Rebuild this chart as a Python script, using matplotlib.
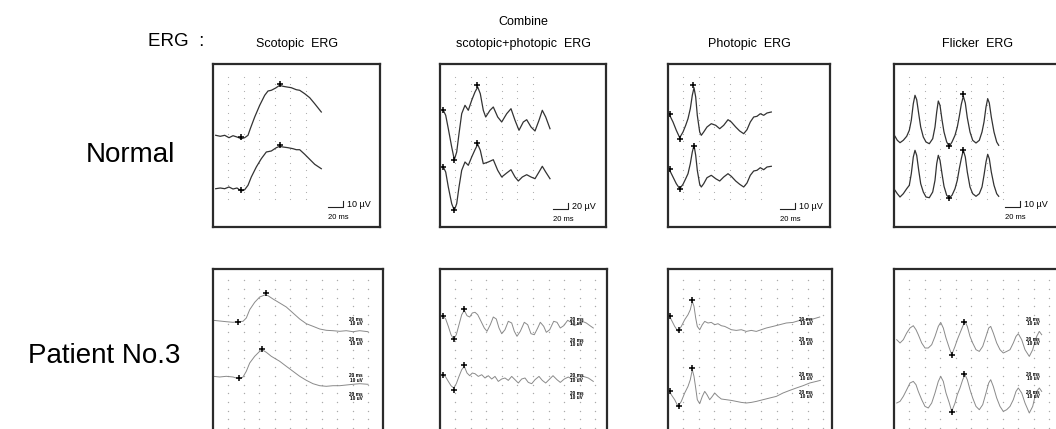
import matplotlib
matplotlib.use("Agg")
import matplotlib.pyplot as plt

plt.rcParams['font.family'] = ['Liberation Sans', 'DejaVu Sans']

W, H = 1056, 429

col_titles = ["Scotopic  ERG", "Combine\nscotopic+photopic  ERG", "Photopic  ERG", "Flicker  ERG"]
row_titles = ["Normal", "Patient No.3"]
scale_uv = ["10 µV", "20 µV", "10 µV", "10 µV"]

# traces, in box pixels (x from the left edge, y up from the bottom edge)
# --- Normal, scotopic
s1_x1 = [2.7, 7.3, 11.7, 16, 20, 24, 28.3, 31.7, 35, 37.3, 41.7, 46.7, 51.7, 55, 58.3, 62.7, 66.7, 70, 74, 78.3, 83.3, 86.7, 91.7, 96.7, 101.7, 108.3]
s1_y1 = [91.7, 90.7, 91.7, 89.3, 91.3, 90, 88.3, 89.3, 91.7, 98.3, 110, 121.7, 131.7, 136, 136.7, 139, 141.7, 140.7, 140, 139.3, 137.3, 136.7, 133.3, 129.3, 123.3, 115]
s1_x2 = [2.7, 7.3, 11.7, 16, 20, 24, 28.3, 31.7, 35, 38.3, 43.3, 48.3, 53.3, 58.3, 63.3, 66.7, 70, 75, 80, 83.3, 86.7, 91.7, 96.7, 101.7, 108.3]
s1_y2 = [38.3, 39, 38.3, 40, 38, 39, 36, 37.3, 41.7, 50, 60, 68.3, 75, 76, 79.3, 80.7, 80, 79.3, 78.3, 77.3, 77.3, 72.7, 67.7, 62.7, 58.3]
s1_mx = [28.3, 66.7, 28.3, 66.7]
s1_my = [90, 142.7, 36.7, 81.7]

# --- Normal, combined
s2_x1 = [3.3, 5.7, 8.3, 11.7, 14.3, 16.7, 19, 21.7, 25, 28.3, 31.7, 35, 37.7, 40.3, 43.3, 45.7, 50, 53.3, 57.7, 61.7, 66.7, 71, 75, 79, 83.3, 86.7, 91, 95, 99, 102.3, 105.7, 110]
s2_y1 = [116.7, 111.7, 98.3, 80, 67.3, 75, 93.3, 113.3, 121.7, 116.7, 126.7, 135, 140, 133.3, 116.7, 110, 116.7, 120, 110, 105, 113.3, 118.3, 106.7, 96.7, 105, 107.3, 100, 96, 106.7, 116.7, 110, 98.3]
s2_x2 = [3.3, 5.7, 8.3, 11.7, 14.3, 16.7, 19, 21.7, 25, 28.3, 31.7, 35, 37.7, 40.3, 43.3, 48.3, 53.3, 57.7, 61.7, 66.7, 71, 75, 78.3, 82.3, 86.7, 91, 95, 99, 102.3, 105.7, 110]
s2_y2 = [60, 55, 40, 23.3, 16.7, 23.3, 40, 56.7, 65, 61.7, 70, 77.3, 82.7, 76.7, 63.3, 65, 67.3, 56.7, 50, 54, 57.3, 50, 46, 50, 52.3, 50, 48.3, 55, 60.7, 55, 48.3]
s2_mx = [3.3, 14.3, 36.7, 3.3, 14.3, 36.7]
s2_my = [116.7, 66.7, 141.7, 60, 17.3, 84]

# --- Normal, photopic
s3_x = [1.7, 5, 8.3, 11.7, 15, 17.7, 20, 22.3, 24.3, 26, 27.7, 29.3, 31.7, 33.3, 35.7, 39, 43.3, 47.7, 51.7, 55.7, 60, 63.3, 67.7, 71.7, 75.7, 79, 82.3, 85.7, 89, 92.3, 95.7, 99, 103.3]
s3_y1 = [111.7, 105, 96.7, 89.3, 95, 101.7, 108.3, 118.3, 131.7, 139.3, 130, 111.7, 95, 91.7, 95, 100, 103.3, 101.7, 98.3, 101.7, 107.3, 105, 100, 96, 93.3, 97.3, 105, 110, 110.7, 113.3, 111.7, 114, 115]
s3_y2 = [56.7, 50, 43.3, 38.3, 42.7, 48.3, 53.3, 63.3, 75, 81.7, 71.7, 56.7, 42.7, 40, 43.3, 49.3, 51.7, 48.3, 46, 50, 53.3, 50.7, 46, 42.7, 40, 44, 51.7, 56, 56.7, 59.3, 57.3, 60, 60.7]
s3_mx = [2.3, 11.7, 25, 2.3, 11.7, 25.7]
s3_my = [113.3, 88.3, 141.7, 58.3, 38.3, 80.7]

# --- Normal, flicker
s4_x = [1, 3.3, 6, 9.3, 12.7, 15.3, 17.3, 19.3, 21, 22.7, 24.7, 26.7, 29.3, 32, 35.3, 38.7, 41, 42.7, 44.3, 46, 48, 50, 52.7, 55.3, 58, 61, 63.3, 65.3, 67.3, 69.3, 71.3, 73.3, 76, 78.7, 82, 85.3, 88, 90, 92, 93.7, 95.3, 97.3, 100, 102.7, 104.7]
s4_y1 = [90.7, 86.7, 84.3, 86.7, 90.7, 96.7, 106.7, 123.3, 131.7, 127.3, 113.3, 100, 90, 85, 83.3, 88.3, 100, 115, 126, 121.7, 107.3, 95, 85, 80.7, 85, 91.7, 100, 110.7, 122.7, 130.7, 124, 109.3, 95, 86.7, 84, 86.7, 95, 105, 120, 128.3, 124, 110, 95, 85, 81.7]
s4_y2 = [36.7, 33.3, 30, 33.3, 38.3, 41.7, 53.3, 70, 76.7, 71.7, 56.7, 43.3, 35, 30, 29.3, 35, 46.7, 63.3, 71.7, 66.7, 53.3, 40.7, 31.7, 29.3, 31.7, 38.3, 46.7, 58.3, 68.3, 76.7, 70, 55, 40, 33.3, 30.7, 33.3, 40, 51.7, 65, 72.7, 68.3, 55, 41.7, 33.3, 30.7]
s4_mx = [55.3, 69.3, 55.3, 69.3]
s4_my = [80.7, 133, 29.3, 77]

# --- Patient, scotopic
p1_x1 = [0, 6.7, 13.3, 20, 25, 30, 33.3, 36.7, 41.7, 46.7, 51.7, 55, 60, 66.7, 73.3, 80, 86.7, 93.3, 100, 106.7, 113.3, 120, 126.7, 133.3, 140, 146.7, 155]
p1_y1 = [111.7, 111, 110.3, 109.7, 110.3, 110.7, 114, 122.3, 129.7, 135, 137, 136.3, 133, 129, 125, 119, 113, 108.3, 105.7, 103, 101.7, 101.3, 100.7, 101.3, 100.3, 101.3, 100.3]
p1_x2 = [0, 6.7, 13.3, 20, 26.7, 30, 33.3, 36.7, 41.7, 46.7, 50, 53.3, 58.3, 66.7, 73.3, 80, 86.7, 93.3, 100, 106.7, 113.3, 120, 126.7, 133.3, 140, 146.7, 155]
p1_y2 = [55.7, 55, 55.7, 55, 53, 55, 60.7, 69, 75.7, 80.7, 81.7, 79.7, 75.7, 70.7, 65.7, 60.7, 55.7, 51.7, 48.3, 46.3, 45.7, 46.3, 46.3, 47, 47.7, 48.3, 47.7]
p1_mx = [25, 53.3, 26, 49.3]
p1_my = [109.7, 139, 54, 83]

# --- Patient, combined
p2_x1 = [3.3, 5.7, 8.3, 11, 13.7, 16.3, 19, 21.7, 24.3, 27, 29.7, 32.3, 35, 37.7, 41, 44.3, 47, 50.3, 53.3, 56.3, 59, 61.7, 65, 68.3, 71.7, 74.3, 77, 80.3, 84.3, 87.7, 91, 94.3, 97.7, 100.3, 103.7, 106.3, 109.7, 113.7, 117, 120.3, 123.7, 127.7, 131, 134.3, 138.3, 142.3, 146.3, 150, 153.3]
p2_y1 = [115.7, 113, 105.7, 97.3, 93, 97.3, 107.3, 117.3, 121.7, 116.3, 115, 119, 119.7, 117.3, 110.7, 104, 100.7, 107.3, 115, 113, 104, 98.3, 102.3, 110.7, 109, 100.7, 95.7, 100.7, 109.7, 107.3, 98.3, 97.3, 104, 109.7, 105.7, 99.7, 102.3, 110.7, 109.7, 104, 106.3, 111.7, 109.7, 106.3, 108.3, 110.7, 109, 106.3, 104]
p2_x2 = [3.3, 5.7, 8.3, 11, 13.7, 16.3, 19, 21.7, 24.3, 27, 29.7, 32.3, 35, 38.3, 41.7, 45, 48.3, 51.7, 55, 58.3, 61.7, 65, 68.3, 71.7, 75, 78.3, 81.7, 85, 88.3, 91.7, 95, 99, 102.3, 105.7, 109, 113, 117, 120.3, 124.3, 128.3, 131.7, 135, 139, 143.3, 148.3, 153.3]
p2_y2 = [57.3, 55, 50.6, 46.3, 44, 48.3, 55.6, 62.3, 65.6, 59, 56.3, 59, 58.3, 55.6, 57.3, 54, 56.3, 53, 55.6, 50.6, 53, 54, 51.6, 55.6, 52.3, 49, 53, 54, 49.6, 48.3, 52.3, 55.6, 51.6, 49, 52.3, 56.3, 52.3, 49.6, 53, 55, 53, 55, 53, 55.6, 54, 50.6]
p2_mx = [3.3, 13.7, 24.3, 3.3, 13.7, 24.3]
p2_my = [115.7, 93, 123, 57.3, 42.5, 67]

# --- Patient, photopic
p3_x1 = [1.7, 3.3, 6.7, 10, 13.3, 16.7, 20, 22.3, 24.3, 26, 27.7, 29.3, 31.7, 34.3, 36.7, 40, 43.3, 46.7, 50, 53.3, 56.7, 60, 63.3, 68.3, 73.3, 78.3, 83.3, 88.3, 93.3, 98.3, 105, 111.7, 118.3, 125, 131.7, 138.3, 145, 151.7]
p3_y1 = [115.6, 112.3, 105.6, 100.6, 105.6, 112.3, 117.3, 122.3, 130.6, 125.6, 114, 105.6, 102.3, 107.3, 110.6, 109, 109.6, 107.3, 108.3, 106.3, 105.6, 104, 102.3, 101.6, 102.3, 100.6, 101.6, 100.6, 102.3, 104, 105.6, 107.3, 109, 109.6, 111.6, 112.3, 113, 115]
p3_x2 = [1.7, 3.3, 6.7, 10, 13.3, 16.7, 20, 22.3, 24.3, 26, 27.7, 29.3, 31.7, 34.3, 36.7, 39, 41.7, 44.3, 46.7, 50, 53.3, 58.3, 63.3, 68.3, 73.3, 78.3, 83.3, 88.3, 95, 101.7, 108.3, 115, 121.7, 128.3, 135, 141.7, 148.3, 152.3]
p3_y2 = [40.6, 37.3, 32.3, 25.6, 30.6, 39, 45.6, 52.3, 62.3, 55.6, 44, 32.3, 28.3, 35.6, 40.6, 37.3, 32.3, 35.6, 39, 35.6, 33, 32.3, 31.6, 30.6, 29.6, 29, 29.6, 30.6, 32.3, 34, 35.6, 39, 41.6, 44, 46.3, 49, 50.6, 51.6]
p3_mx = [1.7, 11, 24.3, 1.7, 11, 24.3]
p3_my = [115.6, 101.6, 131.6, 40.6, 26.3, 64]

# --- Patient, flicker
p4_x = [2.7, 6, 9.3, 12.7, 16, 19.3, 22, 24.3, 27.7, 31, 34.3, 37.7, 41, 44.3, 46.7, 49.3, 52, 55.3, 57.7, 61, 63.3, 66, 68.7, 71, 73.3, 76, 78.7, 82, 85.3, 88.7, 92, 94.7, 96.7, 99.3, 102.7, 106, 109.3, 112.7, 116, 119.3, 122, 124.3, 127.7, 131, 135.3, 138.7, 141, 142.7, 145.3, 147.7]
p4_y1 = [92.3, 89, 92.3, 99, 104, 106.3, 102.3, 97.3, 89, 84, 84, 87.3, 95.6, 105.6, 109.6, 104, 94, 84, 77.3, 85.6, 92.3, 99, 105.6, 110.6, 105.6, 95.6, 89, 82.3, 80.6, 85.6, 95.6, 104, 105.6, 99, 89, 82.3, 79, 80.6, 82.3, 89, 95.6, 98.3, 92.3, 82.3, 75.6, 82.3, 90.6, 95.6, 100.6, 97.3]
p4_y2 = [29, 30.6, 35.6, 42.3, 49, 50.6, 47.3, 40.6, 32.3, 25.6, 24, 29, 39, 50.6, 55.6, 50.6, 39, 29, 20.6, 29, 37.3, 44, 52.3, 57.3, 52.3, 42.3, 34, 25.6, 22.3, 27.3, 39, 49, 52.3, 45.6, 34, 25.6, 20.6, 22.3, 25.6, 32.3, 40.6, 44, 39, 29, 19, 25.6, 35.6, 40.6, 44, 40.6]
p4_mx = [57.7, 70, 57.7, 70]
p4_my = [77, 110, 20, 58]

# little "20 ms / 10 uV" stamps printed on the patient records
stamp_x = [143, 136.7, 138.3, 139.3]
stamp_y = [[110.7, 90.7, 54, 35.7], [110.6, 89.6, 54, 36.3], [110.6, 90.6, 55.6, 37.3], [110.6, 90.6, 55.6, 37.3]]

# box layout in figure pixels: left, top, width, height
top_boxes = [(213, 64, 167, 163), (440, 64, 166, 163), (668, 64, 162, 163), (894, 64, 166, 163)]
bot_boxes = [(213, 269, 170, 163), (440, 269, 167, 163), (668, 269, 164, 163), (894, 269, 166, 163)]
bar_pos = [(115, 20), (113.3, 18.3), (111.7, 18.3), (111, 20)]

fig = plt.figure(figsize=(W / 100, H / 100), dpi=100)


def box(left, top, w, h):
    ax = fig.add_axes([left / W, 1 - (top + h) / H, w / W, h / H])
    ax.set_xlim(0, w)
    ax.set_ylim(0, h)
    ax.set_xticks([])
    ax.set_yticks([])
    for s in ax.spines.values():
        s.set_color('#2b2b2b')
        s.set_linewidth(1.6)
    return ax


def dots(ax, x0, x1, y0, y1, dx, dy, size):
    xs, ys = [], []
    x = x0
    while x <= x1:
        y = y0
        while y <= y1:
            xs.append(x)
            ys.append(y)
            y += dy
        x += dx
    ax.scatter(xs, ys, s=size, color='#aaaaaa', linewidths=0)


def marks(ax, mx, my):
    ax.plot(mx, my, '+', color='black', ms=4.5, mew=1.1)


normal = [
    ([(s1_x1, s1_y1), (s1_x2, s1_y2)], s1_mx, s1_my),
    ([(s2_x1, s2_y1), (s2_x2, s2_y2)], s2_mx, s2_my),
    ([(s3_x, s3_y1), (s3_x, s3_y2)], s3_mx, s3_my),
    ([(s4_x, s4_y1), (s4_x, s4_y2)], s4_mx, s4_my),
]
patient = [
    ([(p1_x1, p1_y1), (p1_x2, p1_y2)], p1_mx, p1_my),
    ([(p2_x1, p2_y1), (p2_x2, p2_y2)], p2_mx, p2_my),
    ([(p3_x1, p3_y1), (p3_x2, p3_y2)], p3_mx, p3_my),
    ([(p4_x, p4_y1), (p4_x, p4_y2)], p4_mx, p4_my),
]

for i in range(4):
    # normal row
    l, t, w, h = top_boxes[i]
    ax = box(l, t, w, h)
    ncol = 7 if i == 3 else 6
    dots(ax, 15, 15 + 15.6 * (ncol - 1) + 0.1, 28, 152, 15.6, 7.2, 0.7)
    traces, mx, my = normal[i]
    for x, y in traces:
        ax.plot(x, y, color='#333333', lw=0.9)
    marks(ax, mx, my)
    bx, by = bar_pos[i]
    ax.plot([bx, bx + 15, bx + 15], [by, by, by + 6], color='#222222', lw=0.8)
    ax.text(bx + 19, by + 2, scale_uv[i], fontsize=6.5, va='center', ha='left')
    ax.text(bx, by - 11, "20 ms", fontsize=5.5, va='center', ha='left')

    # patient row
    l, t, w, h = bot_boxes[i]
    ax = box(l, t, w, h)
    dots(ax, 15, w - 5, 4, 157, 15.6, 8.7, 1.0)
    traces, mx, my = patient[i]
    for x, y in traces:
        ax.plot(x, y, color='#8a8a8a', lw=0.7)
    marks(ax, mx, my)
    for sy in stamp_y[i]:
        ax.text(stamp_x[i], sy, "20 ms\n10 uV", fontsize=3.4, fontweight='bold',
                ha='center', va='center', linespacing=0.85, color='black')

# column titles
for i, (l, t, w, h) in enumerate(top_boxes):
    cx = l + w / 2
    if "\n" in col_titles[i]:
        a, b = col_titles[i].split("\n")
        fig.text(cx / W, 1 - 22 / H, a, fontsize=9, ha='center', va='center')
        fig.text(cx / W, 1 - 44 / H, b, fontsize=9, ha='center', va='center')
    else:
        fig.text(cx / W, 1 - 44 / H, col_titles[i], fontsize=9, ha='center', va='center')

fig.text(148 / W, 1 - 41 / H, "ERG  :", fontsize=13.5, ha='left', va='center')
fig.text(175 / W, 1 - 155 / H, row_titles[0], fontsize=20, ha='right', va='center')
fig.text(180 / W, 1 - 356 / H, row_titles[1], fontsize=20, ha='right', va='center')

fig.savefig("out.png", dpi=100)
